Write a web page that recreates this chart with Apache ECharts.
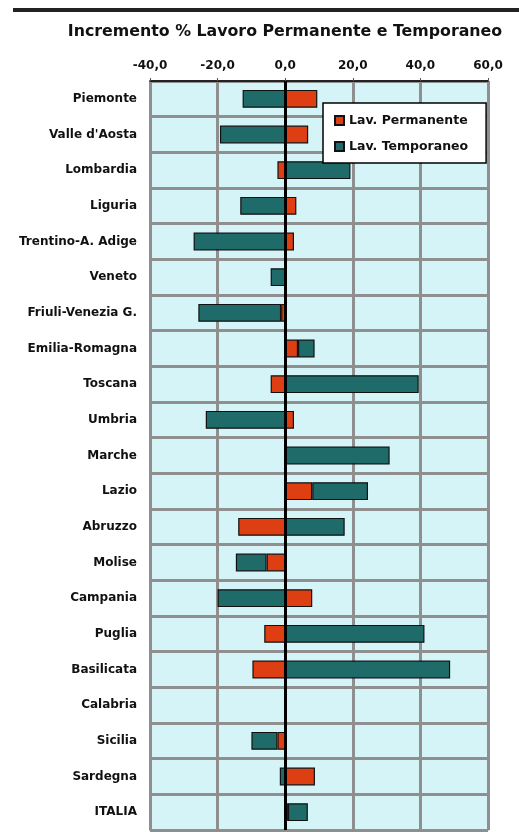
<!DOCTYPE html>
<html><head><meta charset="utf-8">
<script src="https://cdn.jsdelivr.net/npm/echarts@6/dist/echarts.min.js"></script>
<style>html,body{margin:0;padding:0;background:#fff}#c{width:519px;height:832px}</style>
</head><body><div id="c"></div>
<script>
const categories = ["Piemonte","Valle d'Aosta","Lombardia","Liguria","Trentino-A. Adige","Veneto","Friuli-Venezia G.","Emilia-Romagna","Toscana","Umbria","Marche","Lazio","Abruzzo","Molise","Campania","Puglia","Basilicata","Calabria","Sicilia","Sardegna","ITALIA"];
const permanente = [9.5, 6.8, -2.3, 3.3, 2.6, 0.2, -1.2, 3.8, -4.3, 2.6, -0.3, 8.0, -13.9, -5.5, 8.0, -6.2, -9.7, 0.2, -2.3, 8.8, 0.8];
const temporaneo = [-12.6, -19.3, 19.3, -13.3, -27.1, -4.3, -24.5, 4.9, 39.5, -23.5, 30.9, 16.5, 17.6, -9.1, -20.0, 41.2, 48.8, 0.3, -7.7, -1.6, 5.9];
const xTicks = {min: -40, max: 60, interval: 20};

const chart = echarts.init(document.getElementById('c'));
const font = '"DejaVu Sans", sans-serif';
chart.setOption({
  animation: false,
  title: {text: 'Incremento % Lavoro Permanente e Temporaneo', left: 280, textAlign: 'center', top: 19,
    textStyle: {fontFamily: font, fontWeight: 'bold', fontSize: 15.8, color: '#111'}},
  graphic: [{type: 'rect', shape: {x: 13, y: 8, width: 506, height: 4}, style: {fill: '#222'}}],
  legend: {orient: 'vertical', left: 323, top: 103, itemWidth: 9, itemHeight: 9, itemGap: 13,
    backgroundColor: '#fff', borderColor: '#000', borderWidth: 1.5, padding: [11, 18, 10, 11],
    textStyle: {fontFamily: font, fontWeight: 'bold', fontSize: 12.5, color: '#111'},
    data: [{name: 'Lav. Permanente', icon: 'rect'}, {name: 'Lav. Temporaneo', icon: 'rect'}]},
  grid: {left: 150, right: 31, top: 81, bottom: 2, show: true, backgroundColor: '#D4F4F8', borderColor: '#999', borderWidth: 1.5},
  xAxis: {type: 'value', position: 'top', min: xTicks.min, max: xTicks.max, interval: xTicks.interval,
    axisLine: {show: true, lineStyle: {color: '#000', width: 1.5}},
    axisTick: {show: true, length: 3, lineStyle: {color: '#555'}},
    axisLabel: {fontFamily: font, fontWeight: 'bold', fontSize: 12, color: '#111', margin: 9,
      formatter: v => v.toFixed(1).replace('.', ',')},
    splitLine: {show: true, lineStyle: {color: '#8f8f8f', width: 3}}},
  yAxis: {type: 'category', data: categories, inverse: true,
    axisLine: {show: false}, axisTick: {show: false},
    axisLabel: {fontFamily: font, fontWeight: 'bold', fontSize: 12, color: '#111', margin: 13},
    splitLine: {show: true, lineStyle: {color: '#8f8f8f', width: 3}}},
  series: [
    {name: 'Lav. Permanente', type: 'bar', stack: 'tot', data: permanente, barWidth: '50%',
      itemStyle: {color: '#DD3F12', borderColor: '#111', borderWidth: 1.2},
      markLine: {silent: true, symbol: 'none', label: {show: false}, lineStyle: {color: '#000', width: 3, type: 'solid'}, data: [{xAxis: 0}], z: 10}},
    {name: 'Lav. Temporaneo', type: 'bar', stack: 'tot', data: temporaneo, barWidth: '50%',
      itemStyle: {color: '#1F6B6A', borderColor: '#111', borderWidth: 1.2}}
  ]
});
</script></body></html>
